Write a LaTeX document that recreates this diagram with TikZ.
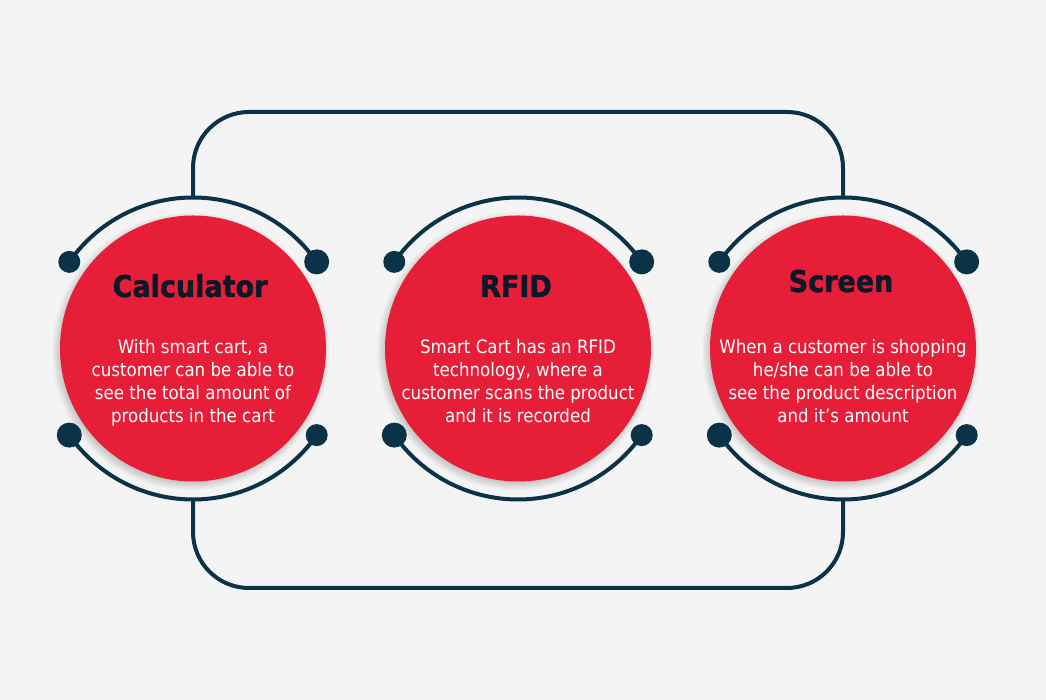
\documentclass[tikz,border=0pt]{standalone}
\usepackage{fontspec}
\setmainfont{DejaVu Sans}[FakeStretch=0.9]
\newfontfamily\headfont{DejaVu Sans}[FakeStretch=0.9,BoldFeatures={FakeBold=1.3}]
\usetikzlibrary{calc}
\definecolor{bg}{HTML}{F4F4F4}
\definecolor{navy}{HTML}{0B3347}
\definecolor{cartred}{HTML}{E61E38}
\definecolor{ink}{HTML}{0B1828}

\begin{document}
\begin{tikzpicture}[x=1pt,y=1pt,
  link/.style={draw=navy,line width=4pt},
  disc/.style={circle,fill=cartred,minimum size=266pt,inner sep=0pt},
  knob/.style={circle,fill=navy,inner sep=0pt,minimum size=#1},
  title/.style={text=ink,font=\headfont\fontsize{30}{36}\selectfont\bfseries,anchor=base},
  blurb/.style={text=white,font=\fontsize{18.5}{23.3}\selectfont,align=center,anchor=base},
]
\useasboundingbox (0,0) rectangle (1046,700);
\fill[bg] (0,0) rectangle (1046,700);

% three feature discs, each with a soft shadow and two bracket arcs
\foreach \i/\x in {1/193,2/518,3/843} {
  \coordinate (p\i) at (\x,351.5);
  \foreach \k in {1,...,9}
    \fill[black,opacity=0.018] ($(p\i)+(-2,-3)$) circle[radius=130+\k];
  \node[disc] (c\i) at (p\i) {};
  \node[knob=22pt] (tl\i) at ($(p\i)+(145:151)$) {};
  \node[knob=25pt] (tr\i) at ($(p\i)+(35:151)$) {};
  \node[knob=25pt] (bl\i) at ($(p\i)+(-145:151)$) {};
  \node[knob=22pt] (br\i) at ($(p\i)+(-35:151)$) {};
  \draw[link] (tl\i.center) arc[start angle=145,end angle=35,radius=151];
  \draw[link] (bl\i.center) arc[start angle=-145,end angle=-35,radius=151];
  \coordinate (t\i) at ($(p\i)+(90:151)$);
  \coordinate (b\i) at ($(p\i)+(-90:151)$);
}

% rounded frame joining the outer discs
\draw[link] (t1) -- (193,532) arc[start angle=180,end angle=90,radius=56]
  -- (787,588) arc[start angle=90,end angle=0,radius=56] -- (t3);
\draw[link] (b1) -- (193,168) arc[start angle=180,end angle=270,radius=56]
  -- (787,112) arc[start angle=270,end angle=360,radius=56] -- (b3);

% headings
\node[title] (h1) at (190,403) {Calculator};
\node[title] (h2) at (516,403) {RFID};
\node[title] (h3) at (841,408) {Screen};

% descriptions (anchored at the baseline of the last line)
\node[blurb] (d1) at (193,277) {With smart cart, a\\customer can be able to\\see the total amount of\\products in the cart};
\node[blurb] (d2) at (518,277) {Smart Cart has an RFID\\technology, where a\\customer scans the product\\and it is recorded};
\node[blurb] (d3) at (843,277) {When a customer is shopping\\he/she can be able to\\see the product description\\and it’s amount};
\end{tikzpicture}
\end{document}
